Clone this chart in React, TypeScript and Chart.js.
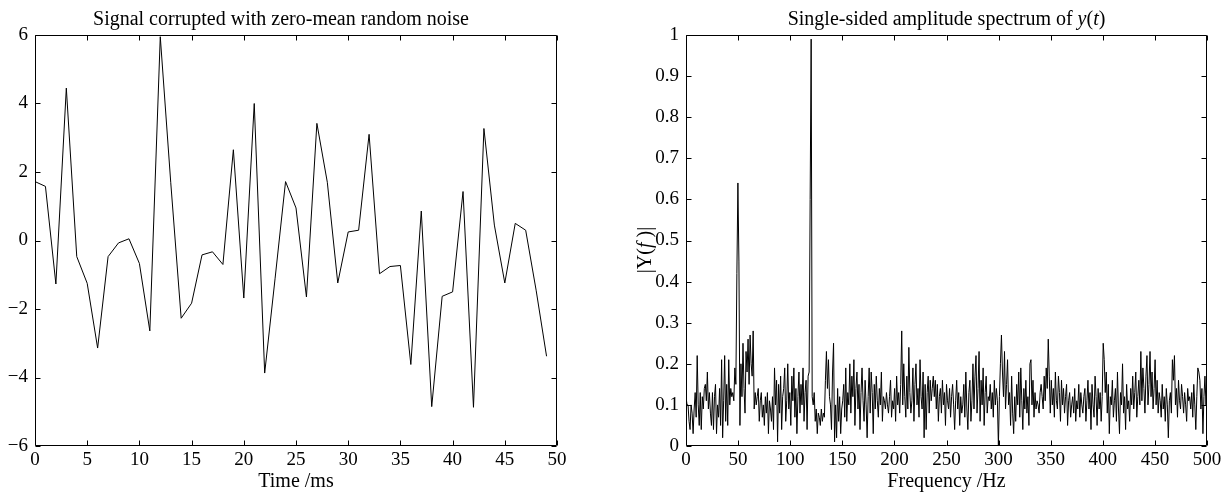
import React, { useEffect, useRef } from 'react';
import { Chart, registerables } from 'chart.js';

Chart.register(...registerables);

// ---------- data ----------
const timeMs = [
  0, 1, 2, 3, 4, 5, 6, 7, 8, 9, 10, 11, 12, 13, 14, 15, 16, 17, 18, 19, 20, 21, 22, 23, 24,
  25, 26, 27, 28, 29, 30, 31, 32, 33, 34, 35, 36, 37, 38, 39, 40, 41, 42, 43, 44, 45, 46, 47, 48, 49,
];
const signalValues = [
  1.72, 1.58, -1.27, 4.45, -0.47, -1.25, -3.14, -0.47, -0.07, 0.05,
  -0.67, -2.64, 5.95, 1.7, -2.27, -1.83, -0.42, -0.33, -0.7, 2.65,
  -1.68, 4.0, -3.87, -1.1, 1.72, 0.95, -1.65, 3.42, 1.7, -1.24,
  0.25, 0.3, 3.1, -0.97, -0.76, -0.73, -3.62, 0.86, -4.85, -1.63,
  -1.5, 1.43, -4.87, 3.27, 0.45, -1.24, 0.5, 0.3, -1.45, -3.38,
];
const leftXTicks = [0, 5, 10, 15, 20, 25, 30, 35, 40, 45, 50];
const leftYTicks = [-6, -4, -2, 0, 2, 4, 6];

const SAMPLE_RATE = 1000;
const spectrumValues = [
  0.12, 0.10, 0.10, 0.06, 0.04, 0.10, 0.08, 0.03, 0.09, 0.13, 0.07, 0.22, 0.10, 0.05, 0.13, 0.04, 0.12, 0.09, 0.14, 0.15,
  0.11, 0.18, 0.09, 0.13, 0.08, 0.05, 0.13, 0.04, 0.12, 0.15, 0.03, 0.10, 0.07, 0.14, 0.05, 0.21, 0.02, 0.11, 0.22, 0.06,
  0.15, 0.05, 0.21, 0.10, 0.14, 0.12, 0.13, 0.11, 0.19, 0.15, 0.42, 0.64, 0.45, 0.05, 0.20, 0.12, 0.25, 0.14, 0.08, 0.23,
  0.18, 0.26, 0.15, 0.27, 0.20, 0.17, 0.28, 0.09, 0.13, 0.10, 0.12, 0.14, 0.06, 0.11, 0.13, 0.07, 0.10, 0.05, 0.12, 0.08,
  0.13, 0.03, 0.11, 0.09, 0.06, 0.12, 0.04, 0.19, 0.10, 0.16, 0.01, 0.15, 0.08, 0.17, 0.04, 0.12, 0.14, 0.19, 0.06, 0.11,
  0.20, 0.09, 0.13, 0.05, 0.17, 0.11, 0.19, 0.07, 0.14, 0.03, 0.12, 0.18, 0.08, 0.15, 0.10, 0.19, 0.06, 0.13, 0.16, 0.04,
  0.17, 0.18, 0.60, 0.99, 0.12, 0.10, 0.13, 0.06, 0.09, 0.03, 0.08, 0.07, 0.05, 0.09, 0.06, 0.08, 0.07, 0.16, 0.23, 0.14,
  0.21, 0.12, 0.10, 0.04, 0.18, 0.25, 0.01, 0.10, 0.02, 0.14, 0.06, 0.12, 0.03, 0.09, 0.11, 0.15, 0.07, 0.19, 0.06, 0.13,
  0.10, 0.20, 0.08, 0.17, 0.12, 0.21, 0.05, 0.14, 0.18, 0.09, 0.15, 0.04, 0.13, 0.19, 0.11, 0.06, 0.16, 0.10, 0.02, 0.12,
  0.19, 0.08, 0.18, 0.13, 0.03, 0.15, 0.09, 0.17, 0.11, 0.07, 0.14, 0.10, 0.18, 0.06, 0.12, 0.11, 0.09, 0.13, 0.10, 0.08,
  0.12, 0.16, 0.07, 0.11, 0.09, 0.14, 0.06, 0.17, 0.10, 0.13, 0.08, 0.15, 0.28, 0.10, 0.20, 0.12, 0.07, 0.17, 0.09, 0.24,
  0.13, 0.08, 0.11, 0.19, 0.06, 0.15, 0.20, 0.10, 0.14, 0.07, 0.21, 0.12, 0.09, 0.18, 0.02, 0.15, 0.04, 0.13, 0.17, 0.08,
  0.16, 0.11, 0.14, 0.17, 0.12, 0.16, 0.09, 0.15, 0.06, 0.12, 0.14, 0.08, 0.16, 0.10, 0.13, 0.05, 0.15, 0.11, 0.09, 0.14,
  0.07, 0.12, 0.15, 0.10, 0.04, 0.11, 0.16, 0.09, 0.13, 0.05, 0.12, 0.08, 0.10, 0.15, 0.07, 0.18, 0.09, 0.04, 0.13, 0.16,
  0.06, 0.11, 0.20, 0.09, 0.17, 0.22, 0.08, 0.14, 0.23, 0.06, 0.16, 0.10, 0.19, 0.05, 0.13, 0.17, 0.08, 0.12, 0.11, 0.15,
  0.09, 0.13, 0.07, 0.16, 0.10, 0.14, 0.11, 0.00, 0.12, 0.20, 0.27, 0.18, 0.12, 0.23, 0.09, 0.15, 0.21, 0.10, 0.13, 0.05,
  0.17, 0.08, 0.03, 0.12, 0.06, 0.15, 0.10, 0.18, 0.07, 0.19, 0.11, 0.04, 0.14, 0.09, 0.16, 0.08, 0.12, 0.05, 0.20, 0.21,
  0.10, 0.16, 0.07, 0.13, 0.09, 0.11, 0.10, 0.08, 0.13, 0.15, 0.12, 0.09, 0.17, 0.11, 0.19, 0.14, 0.26, 0.17, 0.08, 0.16,
  0.10, 0.14, 0.07, 0.18, 0.11, 0.09, 0.17, 0.13, 0.06, 0.16, 0.10, 0.14, 0.08, 0.12, 0.15, 0.05, 0.11, 0.13, 0.07, 0.10,
  0.12, 0.08, 0.14, 0.06, 0.11, 0.09, 0.15, 0.07, 0.13, 0.10, 0.08, 0.12, 0.14, 0.06, 0.11, 0.16, 0.09, 0.13, 0.04, 0.15,
  0.10, 0.07, 0.17, 0.12, 0.05, 0.14, 0.09, 0.13, 0.06, 0.12, 0.25, 0.21, 0.13, 0.18, 0.08, 0.15, 0.03, 0.12, 0.10, 0.16,
  0.07, 0.11, 0.14, 0.06, 0.18, 0.09, 0.03, 0.13, 0.10, 0.20, 0.08, 0.12, 0.04, 0.15, 0.09, 0.11, 0.06, 0.14, 0.10, 0.17,
  0.09, 0.13, 0.18, 0.07, 0.12, 0.16, 0.10, 0.23, 0.11, 0.19, 0.14, 0.08, 0.17, 0.22, 0.10, 0.15, 0.23, 0.12, 0.18, 0.09,
  0.14, 0.21, 0.10, 0.16, 0.08, 0.13, 0.11, 0.07, 0.15, 0.09, 0.12, 0.06, 0.14, 0.10, 0.02, 0.11, 0.13, 0.08, 0.21, 0.16,
  0.22, 0.10, 0.14, 0.07, 0.16, 0.11, 0.09, 0.15, 0.12, 0.08, 0.13, 0.10, 0.06, 0.14, 0.11, 0.12, 0.09, 0.13, 0.07, 0.15,
  0.10, 0.04, 0.12, 0.19, 0.18, 0.16, 0.09, 0.14, 0.03, 0.12, 0.17, 0.10, 0.15,
];
const rightXTicks = [0, 50, 100, 150, 200, 250, 300, 350, 400, 450, 500];
const rightYTicks = [0, 0.1, 0.2, 0.3, 0.4, 0.5, 0.6, 0.7, 0.8, 0.9, 1];

// ---------- styling ----------
const FONT = "'Liberation Serif', 'Times New Roman', serif";
const TICK_SIZE = 19;
const LABEL_SIZE = 20;
const W = 1227;
const H = 495;

type Seg = { t: string; italic?: boolean };

function drawSegs(ctx: CanvasRenderingContext2D, segs: Seg[], cx: number, cy: number, size: number) {
  let total = 0;
  const widths = segs.map((s) => {
    ctx.font = `${s.italic ? 'italic ' : ''}${size}px ${FONT}`;
    const w = ctx.measureText(s.t).width;
    total += w;
    return w;
  });
  let x = cx - total / 2;
  ctx.textAlign = 'left';
  ctx.textBaseline = 'alphabetic';
  ctx.fillStyle = '#000';
  segs.forEach((s, i) => {
    ctx.font = `${s.italic ? 'italic ' : ''}${size}px ${FONT}`;
    ctx.fillText(s.t, x, cy);
    x += widths[i];
  });
}

function makeBoxPlugin(title: Seg[], titleX: number, yLabel: Seg[] | null, yLabelX: number, yLabelY: number) {
  return {
    id: 'matlabBox',
    afterDatasetsDraw(chart: any) {
      const { ctx, chartArea } = chart;
      const { left, right, top, bottom } = chartArea;
      const xs = chart.scales.x;
      const ys = chart.scales.y;
      ctx.save();
      ctx.strokeStyle = '#000';
      ctx.lineWidth = 1;
      const L = Math.round(left) + 0.5;
      const R = Math.round(right) - 0.5;
      const T = Math.round(top) + 0.5;
      const B = Math.round(bottom) - 0.5;
      ctx.beginPath();
      ctx.rect(L, T, R - L, B - T);
      const tl = 5;
      xs.ticks.forEach((t: any) => {
        const px = Math.round(xs.getPixelForValue(t.value)) + 0.5;
        ctx.moveTo(px, B);
        ctx.lineTo(px, B - tl);
        ctx.moveTo(px, T);
        ctx.lineTo(px, T + tl);
      });
      ys.ticks.forEach((t: any) => {
        const py = Math.round(ys.getPixelForValue(t.value)) + 0.5;
        ctx.moveTo(L, py);
        ctx.lineTo(L + tl, py);
        ctx.moveTo(R, py);
        ctx.lineTo(R - tl, py);
      });
      ctx.stroke();
      ctx.restore();
    },
    afterDraw(chart: any) {
      const { ctx } = chart;
      ctx.save();
      drawSegs(ctx, title, titleX, 25, LABEL_SIZE);
      if (yLabel) {
        ctx.translate(yLabelX, yLabelY);
        ctx.rotate(-Math.PI / 2);
        drawSegs(ctx, yLabel, 0, 0, LABEL_SIZE);
      }
      ctx.restore();
    },
  };
}

function fmtMinus(v: number) {
  const s = String(Math.round(v * 10) / 10);
  return s.replace('-', '\u2212');
}

function buildOptions(opts: {
  xMin: number; xMax: number; xTicks: number[];
  yMin: number; yMax: number; yTicks: number[];
  yAxisWidth: number; padRight: number; xTitle: string;
}) {
  return {
    animation: false as const,
    responsive: false,
    maintainAspectRatio: false,
    layout: { padding: { left: 0, right: opts.padRight, top: 35, bottom: 0 } },
    plugins: { legend: { display: false }, tooltip: { enabled: false }, title: { display: false } },
    elements: { point: { radius: 0 }, line: { tension: 0 } },
    scales: {
      x: {
        type: 'linear' as const,
        min: opts.xMin,
        max: opts.xMax,
        grid: { display: false, drawTicks: false },
        border: { display: false },
        afterBuildTicks: (scale: any) => {
          scale.ticks = opts.xTicks.map((v) => ({ value: v }));
        },
        afterFit: (scale: any) => {
          scale.height = H - 446;
        },
        ticks: {
          autoSkip: false,
          maxRotation: 0,
          padding: 3,
          color: '#000',
          font: { family: FONT, size: TICK_SIZE },
          callback: (v: any) => fmtMinus(Number(v)),
        },
        title: {
          display: true,
          text: opts.xTitle,
          color: '#000',
          font: { family: FONT, size: LABEL_SIZE },
          padding: { top: 0, bottom: 1 },
        },
      },
      y: {
        type: 'linear' as const,
        min: opts.yMin,
        max: opts.yMax,
        grid: { display: false, drawTicks: false },
        border: { display: false },
        afterBuildTicks: (scale: any) => {
          scale.ticks = opts.yTicks.map((v) => ({ value: v }));
        },
        afterFit: (scale: any) => {
          scale.width = opts.yAxisWidth;
        },
        ticks: {
          autoSkip: false,
          padding: 7,
          color: '#000',
          font: { family: FONT, size: TICK_SIZE },
          callback: (v: any) => fmtMinus(Number(v)),
        },
      },
    },
  };
}

export default function App() {
  const leftRef = useRef<HTMLCanvasElement>(null);
  const rightRef = useRef<HTMLCanvasElement>(null);

  useEffect(() => {
    document.body.style.margin = '0';
    const leftData = timeMs.map((t, i) => ({ x: t, y: signalValues[i] }));
    const n = spectrumValues.length;
    const rightData = spectrumValues.map((v, i) => ({ x: (SAMPLE_RATE / 2) * (i / (n - 1)), y: v }));

    const leftChart = new Chart(leftRef.current!, {
      type: 'line',
      data: {
        datasets: [{ data: leftData, borderColor: '#000', borderWidth: 1, pointRadius: 0, fill: false }],
      },
      options: buildOptions({
        xMin: 0, xMax: 50, xTicks: leftXTicks,
        yMin: -6, yMax: 6, yTicks: leftYTicks,
        yAxisWidth: 35, padRight: 620 - 557, xTitle: 'Time /ms',
      }) as any,
      plugins: [makeBoxPlugin([{ t: 'Signal corrupted with zero-mean random noise' }], 281, null, 0, 0)],
    });

    const rightChart = new Chart(rightRef.current!, {
      type: 'line',
      data: {
        datasets: [{ data: rightData, borderColor: '#000', borderWidth: 1, pointRadius: 0, fill: false }],
      },
      options: buildOptions({
        xMin: 0, xMax: 500, xTicks: rightXTicks,
        yMin: 0, yMax: 1, yTicks: rightYTicks,
        yAxisWidth: 686 - 620, padRight: W - 1207, xTitle: 'Frequency /Hz',
      }) as any,
      plugins: [
        makeBoxPlugin(
          [
            { t: 'Single-sided amplitude spectrum of ' },
            { t: 'y', italic: true },
            { t: '(' },
            { t: 't', italic: true },
            { t: ')' },
          ],
          946.5 - 620,
          [{ t: '|Y(' }, { t: 'f', italic: true }, { t: ' )|' }],
          651 - 620,
          250,
        ),
      ],
    });

    return () => {
      leftChart.destroy();
      rightChart.destroy();
    };
  }, []);

  return (
    <div style={{ position: 'fixed', left: 0, top: 0, width: W, height: H, background: '#fff' }}>
      <canvas ref={leftRef} width={620} height={H} style={{ position: 'absolute', left: 0, top: 0, width: 620, height: H }} />
      <canvas ref={rightRef} width={W - 620} height={H} style={{ position: 'absolute', left: 620, top: 0, width: W - 620, height: H }} />
    </div>
  );
}
